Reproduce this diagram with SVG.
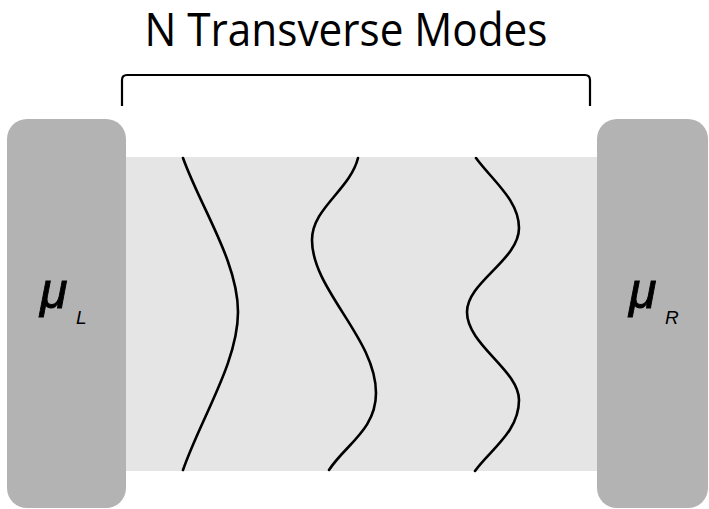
<svg xmlns="http://www.w3.org/2000/svg" width="709" height="509" viewBox="0 0 709 509">
<style>
.res{fill:#b3b3b3}
.chan{fill:#e5e5e5}
.mode{fill:none;stroke:#000;stroke-width:2.6;stroke-linecap:round}
.br{fill:none;stroke:#000;stroke-width:2.2}
.mu{font-family:"Liberation Sans",Arial,sans-serif;font-style:italic;fill:#000}
.big{font-size:50px;stroke:#000;stroke-width:0.9}
.sub{font-size:19px}
.title{font-family:"Open Sans","Liberation Sans",sans-serif;fill:#000}
</style>
<rect width="709" height="509" fill="#fff"/>
<g id="channel"><rect class="chan" x="120" y="157" width="485" height="314"/></g>
<g id="reservoir-left">
<rect class="res" x="7" y="119" width="119" height="389" rx="20"/>
<text class="mu big" x="40" y="308">μ</text>
<text class="mu sub" x="76" y="324">L</text>
</g>
<g id="reservoir-right">
<rect class="res" x="597" y="119" width="111" height="389" rx="20"/>
<text class="mu big" x="629" y="308">μ</text>
<text class="mu sub" x="665" y="324">R</text>
</g>
<g id="title">
<text class="title" x="346" y="46" font-size="45" text-anchor="middle" textLength="403" lengthAdjust="spacingAndGlyphs">N Transverse Modes</text>
<path class="br" d="M122,106 V80 Q122,75 127,75 H585 Q590,75 590,80 V106"/>
</g>
<g id="modes">
<path class="mode" d="M183,158 C201,208 238,262 238,312 C238,362 201,418 183,470"/>
<path class="mode" d="M358,158 C350,190 312,208 312,240 C312,290 376,338 376,393 C376,430 345,445 329,470"/>
<path class="mode" d="M476,158 C492,180 519,200 519,228 C519,260 467,282 467,312 C467,345 519,370 519,400 C519,432 490,450 475,471"/>
</g>
</svg>
